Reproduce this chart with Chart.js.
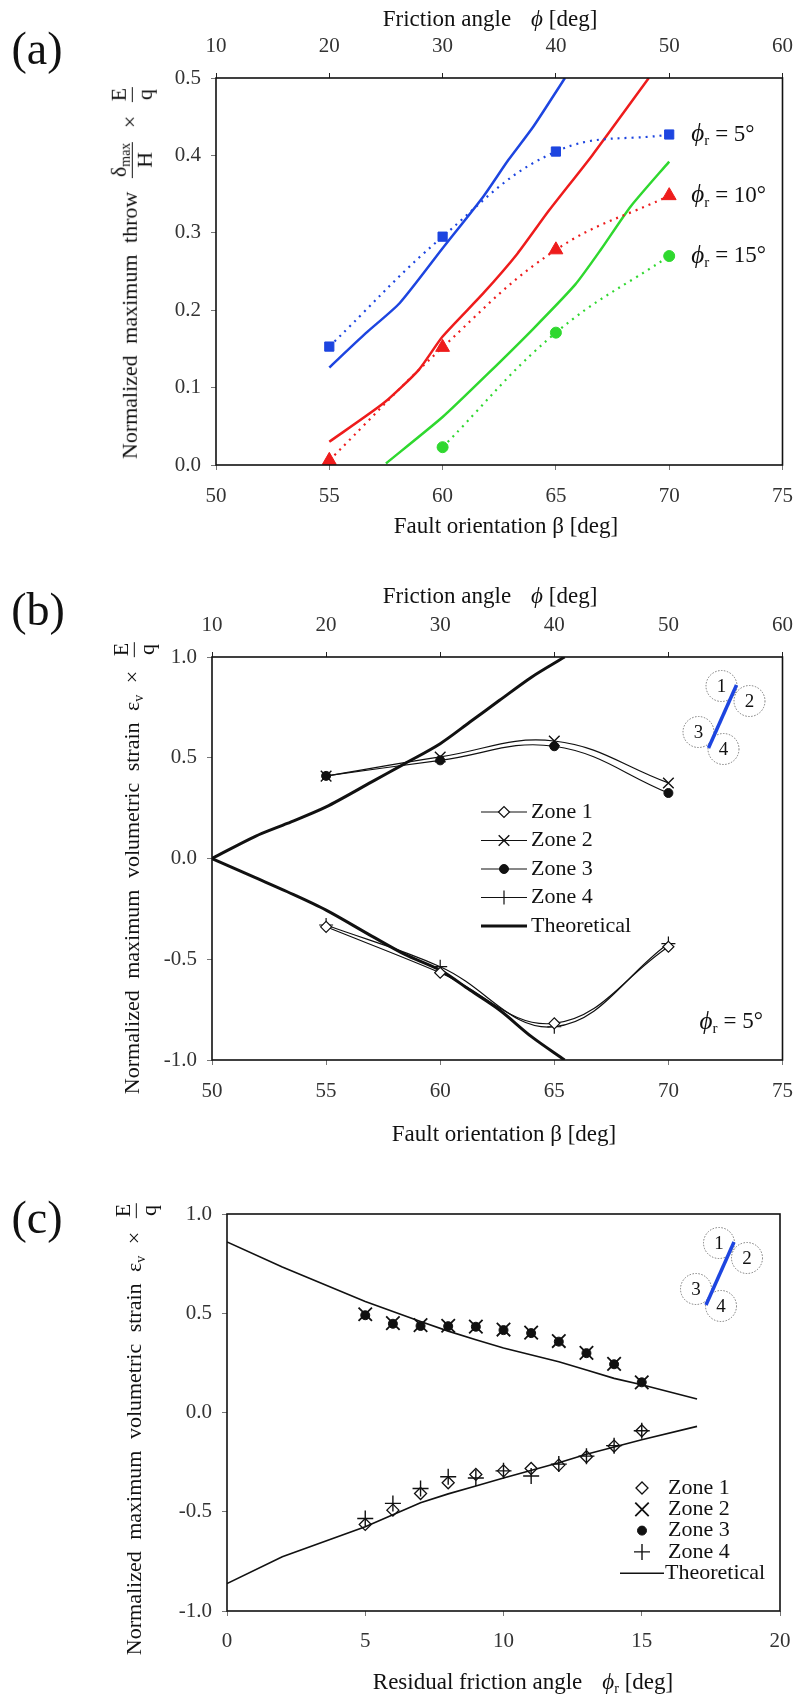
<!DOCTYPE html>
<html>
<head>
<meta charset="utf-8">
<style>
  body { margin: 0; background: #fff; }
  #page { position: relative; width: 807px; height: 1699px; overflow: hidden;
          font-family: "Liberation Serif", "Times New Roman", serif; color: #111; }
  canvas { position: absolute; left: 0; }
  .lbl { position: absolute; transform: translate(-50%, -50%); white-space: nowrap;
         font-size: 23px; line-height: 1; }
  .rot { transform: translate(-50%, -50%) rotate(-90deg); word-spacing: 6px; font-size: 22px; }
  .tag { font-size: 46px; }
  .gap { margin-left: 20px; }
  .frac { display: inline-block; vertical-align: middle; text-align: center; line-height: 1.1;
          word-spacing: 0; margin: 0 2px; }
  .frac > span { display: block; }
  .frac > span:first-child { border-bottom: 1px solid #111; padding: 0 1px 1px; }
  sub { font-size: 14px; vertical-align: -4px; line-height: 0; }
</style>
</head>
<body>
<div id="page">
  <canvas id="chartA" width="807" height="560" style="top:0"></canvas>
  <canvas id="chartB" width="807" height="580" style="top:560px"></canvas>
  <canvas id="chartC" width="807" height="559" style="top:1140px"></canvas>

  <div class="lbl tag" style="left:37px;top:49px">(a)</div>
  <div class="lbl" style="left:490px;top:18px">Friction angle<span class="gap"><i>ϕ</i> [deg]</span></div>
  <div class="lbl" style="left:506px;top:525px">Fault orientation β [deg]</div>
  <div class="lbl rot" style="left:132px;top:272px">Normalized maximum throw
    <span class="frac"><span>δ<sub>max</sub></span><span>H</span></span> ×
    <span class="frac"><span>E</span><span>q</span></span></div>

  <div class="lbl tag" style="left:38px;top:610px">(b)</div>
  <div class="lbl" style="left:490px;top:595px">Friction angle<span class="gap"><i>ϕ</i> [deg]</span></div>
  <div class="lbl" style="left:504px;top:1133px">Fault orientation β [deg]</div>
  <div class="lbl rot" style="left:134px;top:867px">Normalized maximum volumetric strain
    ε<sub>v</sub> × <span class="frac"><span>E</span><span>q</span></span></div>

  <div class="lbl tag" style="left:37px;top:1218px">(c)</div>
  <div class="lbl" style="left:523px;top:1681px">Residual friction angle<span class="gap"><i>ϕ</i><sub>r</sub> [deg]</span></div>
  <div class="lbl rot" style="left:136px;top:1428px">Normalized maximum volumetric strain
    ε<sub>v</sub> × <span class="frac"><span>E</span><span>q</span></span></div>
</div>

<script src="https://cdn.jsdelivr.net/npm/chart.js@4.4.1/dist/chart.umd.min.js"></script>
<script>
// ---- axis ticks ----
const betaTicks = [50, 55, 60, 65, 70, 75];
const phiTicks = [10, 20, 30, 40, 50, 60];
const throwTicks = [0, 0.1, 0.2, 0.3, 0.4, 0.5];
const strainTicks = [-1, -0.5, 0, 0.5, 1];
const residualTicks = [0, 5, 10, 15, 20];

// ---- (a) normalized maximum throw ----
const betaRuns = [55, 60, 65, 70];
const throwPhiR5 = [0.153, 0.295, 0.405, 0.427];
const throwPhiR10 = [0.006, 0.152, 0.278, 0.348];
const betaRuns15 = [60, 65, 70];
const throwPhiR15 = [0.023, 0.171, 0.270];
const phiRLabels = ['5°', '10°', '15°'];

const theoBeta5 = [55, 56.6, 58.1, 60, 61.8, 62.9, 64, 65.4];
const theoThrow5 = [0.126, 0.170, 0.209, 0.280, 0.347, 0.394, 0.437, 0.5];
const theoBeta10 = [55, 57.4, 58.95, 60, 61.8, 63.3, 64.7, 66.6, 69.1];
const theoThrow10 = [0.030, 0.080, 0.123, 0.166, 0.222, 0.273, 0.329, 0.400, 0.5];
const theoBeta15 = [57.5, 60, 62, 64, 65.85, 67, 68.3, 70];
const theoThrow15 = [0.002, 0.062, 0.118, 0.176, 0.233, 0.279, 0.334, 0.392];

// ---- (b) volumetric strain vs fault orientation, phi_r = 5 ----
const betaZones = [55, 60, 65, 70];
const strainZone1 = [-0.339, -0.567, -0.818, -0.438];
const strainZone2 = [0.409, 0.504, 0.583, 0.375];
const strainZone3 = [0.410, 0.487, 0.557, 0.325];
const strainZone4 = [-0.330, -0.537, -0.835, -0.422];
const theoBetaB = [50, 51.9, 53.3, 55, 57, 58.45, 60, 61.3, 62.6, 64, 65.45];
const theoStrainUp = [0, 0.11, 0.174, 0.256, 0.38, 0.471, 0.570, 0.677, 0.785, 0.90, 1.0];
const theoStrainDown = [0, -0.095, -0.165, -0.256, -0.385, -0.476, -0.554, -0.653, -0.752, -0.884, -1.0];

// ---- (c) volumetric strain vs residual friction angle ----
const residualAngles = [5, 6, 7, 8, 9, 10, 11, 12, 13, 14, 15];
const zone1C = [-0.564, -0.492, -0.408, -0.354, -0.312, -0.294, -0.282, -0.265, -0.223, -0.169, -0.092];
const zone2C = [0.495, 0.450, 0.440, 0.437, 0.433, 0.418, 0.402, 0.360, 0.300, 0.245, 0.152];
const zone3C = [0.490, 0.447, 0.436, 0.435, 0.432, 0.415, 0.400, 0.357, 0.299, 0.243, 0.152];
const zone4C = [-0.534, -0.458, -0.383, -0.324, -0.330, -0.294, -0.320, -0.260, -0.220, -0.167, -0.092];
const theoPhiC = [0, 2, 5, 7, 8, 9, 10, 12, 13, 14, 15, 17];
const theoUpC = [0.859, 0.733, 0.559, 0.458, 0.410, 0.367, 0.325, 0.256, 0.214, 0.172, 0.140, 0.068];
const theoDownC = [-0.862, -0.727, -0.576, -0.455, -0.410, -0.370, -0.330, -0.253, -0.210, -0.174, -0.137, -0.070];

const serif = '"Liberation Serif", "Times New Roman", serif';
const ink = '#111';
const blue = '#1d45e0', red = '#ee1c1c', green = '#2fd82f';

const pts = (xs, ys) => xs.map((x, i) => ({ x, y: ys[i] }));
const fix1 = v => v.toFixed(1);
const plain = v => String(v);

function axis(position, min, max, tickList, boxSize, fmt, pad, tickColor) {
  return {
    type: 'linear', position, min, max,
    afterBuildTicks: s => { s.ticks = tickList.map(v => ({ value: v })); },
    afterFit: s => { if (s.isHorizontal()) s.height = boxSize; else s.width = boxSize; },
    ticks: { color: '#333', font: { family: serif, size: 21 }, padding: pad,
             callback: fmt, autoSkip: false, maxRotation: 0 },
    grid: { drawOnChartArea: false, tickLength: 5, color: tickColor || '#777', lineWidth: 1 },
    border: { display: false }
  };
}

function baseOptions(scales, padding) {
  return {
    responsive: false,
    animation: false,
    layout: { autoPadding: false, padding },
    plugins: { legend: { display: false }, tooltip: { enabled: false } },
    events: [],
    scales
  };
}

// box around the plot area
Chart.register({
  id: 'frame',
  afterDatasetsDraw(chart) {
    const { ctx, chartArea: a } = chart;
    ctx.save();
    ctx.strokeStyle = ink;
    ctx.lineWidth = 1.6;
    ctx.strokeRect(a.left, a.top, a.right - a.left, a.bottom - a.top);
    ctx.restore();
  }
});

function marker(ctx, ds, x, y) {
  ctx.save();
  ctx.fillStyle = ds.pointBackgroundColor || ds.borderColor;
  ctx.strokeStyle = ds.pointBorderColor || ds.borderColor;
  ctx.lineWidth = ds.pointBorderWidth || 1;
  Chart.helpers.drawPoint(ctx, { pointStyle: ds.pointStyle, radius: ds.pointRadius,
                                  rotation: 0, borderWidth: ctx.lineWidth }, x, y);
  ctx.restore();
}

// ϕ_r followed by "= value"
function phiR(ctx, x, y, value) {
  ctx.save();
  ctx.fillStyle = ink;
  ctx.textBaseline = 'middle';
  ctx.textAlign = 'left';
  ctx.font = `italic 25px ${serif}`;
  ctx.fillText('ϕ', x, y);
  let w = ctx.measureText('ϕ').width;
  ctx.font = `15px ${serif}`;
  ctx.fillText('r', x + w, y + 7);
  w += ctx.measureText('r').width + 6;
  ctx.font = `23px ${serif}`;
  ctx.fillText('= ' + value, x + w, y);
  ctx.restore();
}

// fault sketch with the four monitored zones
function zoneSketch(ctx, a) {
  const r = a.right, t = a.top;
  const zones = [[-61, 29, '1'], [-33, 44, '2'], [-84, 75, '3'], [-59, 92, '4']];
  ctx.save();
  ctx.strokeStyle = '#777';
  ctx.lineWidth = 1;
  ctx.setLineDash([1.5, 1.5]);
  zones.forEach(([dx, dy]) => {
    ctx.beginPath();
    ctx.arc(r + dx, t + dy, 15.5, 0, 2 * Math.PI);
    ctx.stroke();
  });
  ctx.setLineDash([]);
  ctx.fillStyle = ink;
  ctx.font = `19px ${serif}`;
  ctx.textAlign = 'center';
  ctx.textBaseline = 'middle';
  zones.forEach(([dx, dy, n]) => ctx.fillText(n, r + dx, t + dy + 1));
  ctx.strokeStyle = blue;
  ctx.lineWidth = 3.5;
  ctx.beginPath();
  ctx.moveTo(r - 46, t + 28);
  ctx.lineTo(r - 74, t + 91);
  ctx.stroke();
  ctx.restore();
}

// ---------- (a) ----------
const dotted = (color, xs, ys, style, radius) => ({
  data: pts(xs, ys), showLine: true, tension: 0.4,
  borderColor: color, borderWidth: 2.2, borderDash: [2, 5],
  pointStyle: style, pointRadius: radius, pointBackgroundColor: color,
  pointBorderColor: color, pointBorderWidth: 1
});
const solid = (color, xs, ys) => ({
  data: pts(xs, ys), showLine: true, tension: 0.2,
  borderColor: color, borderWidth: 2.5, pointRadius: 0
});

new Chart(document.getElementById('chartA'), {
  type: 'scatter',
  data: {
    datasets: [
      dotted(blue, betaRuns, throwPhiR5, 'rect', 6.5),
      dotted(red, betaRuns, throwPhiR10, 'triangle', 8),
      dotted(green, betaRuns15, throwPhiR15, 'circle', 5.5),
      solid(blue, theoBeta5, theoThrow5),
      solid(red, theoBeta10, theoThrow10),
      solid(green, theoBeta15, theoThrow15)
    ]
  },
  options: baseOptions({
    x: axis('bottom', 50, 75, betaTicks, 95, plain, 14),
    xTop: axis('top', 10, 60, phiTicks, 78, plain, 14, '#222'),
    y: axis('left', 0, 0.5, throwTicks, 216, fix1, 10)
  }, { right: 12 }),
  plugins: [{
    id: 'phiLabels',
    afterDraw(chart) {
      [0, 1, 2].forEach(i => {
        const pts = chart.getDatasetMeta(i).data;
        const last = pts[pts.length - 1];
        phiR(chart.ctx, last.x + 22, last.y, phiRLabels[i]);
      });
    }
  }]
});

// ---------- (b) ----------
const zoneLine = (label, ys, style, radius, fill, bw) => ({
  label, data: pts(betaZones, ys), showLine: true, tension: 0.4,
  borderColor: ink, borderWidth: 1.2,
  pointStyle: style, pointRadius: radius, pointBackgroundColor: fill,
  pointBorderColor: ink, pointBorderWidth: bw
});
const theoB = (label, ys) => ({
  label, data: pts(theoBetaB, ys), showLine: true, tension: 0.3,
  borderColor: ink, borderWidth: 3, pointRadius: 0
});

new Chart(document.getElementById('chartB'), {
  type: 'scatter',
  data: {
    datasets: [
      zoneLine('Zone 1', strainZone1, 'rectRot', 5.5, '#fff', 1.2),
      zoneLine('Zone 2', strainZone2, 'crossRot', 7.5, ink, 1.4),
      zoneLine('Zone 3', strainZone3, 'circle', 4.5, ink, 1),
      zoneLine('Zone 4', strainZone4, 'cross', 7, ink, 1.2),
      theoB('Theoretical', theoStrainUp),
      theoB('', theoStrainDown)
    ]
  },
  options: baseOptions({
    x: axis('bottom', 50, 75, betaTicks, 80, plain, 14),
    xTop: axis('top', 10, 60, phiTicks, 97, plain, 14, '#222'),
    y: axis('left', -1, 1, strainTicks, 212, fix1, 10)
  }, { right: 11 }),
  plugins: [{
    id: 'decoB',
    afterDraw(chart) {
      const { ctx, chartArea: a } = chart;
      const items = chart.data.datasets.filter(d => d.label);
      items.forEach((ds, i) => {
        const y = a.top + 155 + i * 28.5;
        ctx.save();
        ctx.strokeStyle = ink;
        ctx.lineWidth = ds.borderWidth;
        ctx.beginPath();
        ctx.moveTo(a.left + 269, y);
        ctx.lineTo(a.left + 315, y);
        ctx.stroke();
        ctx.restore();
        if (ds.pointRadius) marker(ctx, ds, a.left + 292, y);
        ctx.save();
        ctx.fillStyle = ink;
        ctx.font = `22px ${serif}`;
        ctx.textBaseline = 'middle';
        ctx.fillText(ds.label, a.left + 319, y);
        ctx.restore();
      });
      zoneSketch(ctx, a);
      phiR(ctx, a.right - 83, a.bottom - 38, '5°');
    }
  }]
});

// ---------- (c) ----------
const zonePts = (label, ys, style, radius, fill, bw) => ({
  label, data: pts(residualAngles, ys), showLine: false,
  borderColor: ink, pointStyle: style, pointRadius: radius,
  pointBackgroundColor: fill, pointBorderColor: ink, pointBorderWidth: bw
});
const theoC = (label, ys) => ({
  label, data: pts(theoPhiC, ys), showLine: true, tension: 0,
  borderColor: ink, borderWidth: 1.6, pointRadius: 0
});

new Chart(document.getElementById('chartC'), {
  type: 'scatter',
  data: {
    datasets: [
      zonePts('Zone 1', zone1C, 'rectRot', 6, 'rgba(0,0,0,0)', 1.3),
      zonePts('Zone 2', zone2C, 'crossRot', 9.5, ink, 1.8),
      zonePts('Zone 3', zone3C, 'circle', 4.5, ink, 1),
      zonePts('Zone 4', zone4C, 'cross', 8, ink, 1.4),
      theoC('Theoretical', theoUpC),
      theoC('', theoDownC)
    ]
  },
  options: baseOptions({
    x: axis('bottom', 0, 20, residualTicks, 88, plain, 13),
    y: axis('left', -1, 1, strainTicks, 227, fix1, 10)
  }, { top: 74, right: 27 }),
  plugins: [{
    id: 'decoC',
    afterDraw(chart) {
      const { ctx, chartArea: a } = chart;
      const items = chart.data.datasets.filter(d => d.label);
      items.forEach((ds, i) => {
        const y = a.top + 274 + i * 21.3;
        if (ds.showLine) {
          ctx.save();
          ctx.strokeStyle = ink;
          ctx.lineWidth = ds.borderWidth;
          ctx.beginPath();
          ctx.moveTo(a.left + 393, y);
          ctx.lineTo(a.left + 437, y);
          ctx.stroke();
          ctx.restore();
        } else {
          marker(ctx, ds, a.left + 415, y);
        }
        ctx.save();
        ctx.fillStyle = ink;
        ctx.font = `22px ${serif}`;
        ctx.textBaseline = 'middle';
        ctx.fillText(ds.label, a.left + (ds.showLine ? 438 : 441), y);
        ctx.restore();
      });
      zoneSketch(ctx, a);
    }
  }]
});
</script>
</body>
</html>
